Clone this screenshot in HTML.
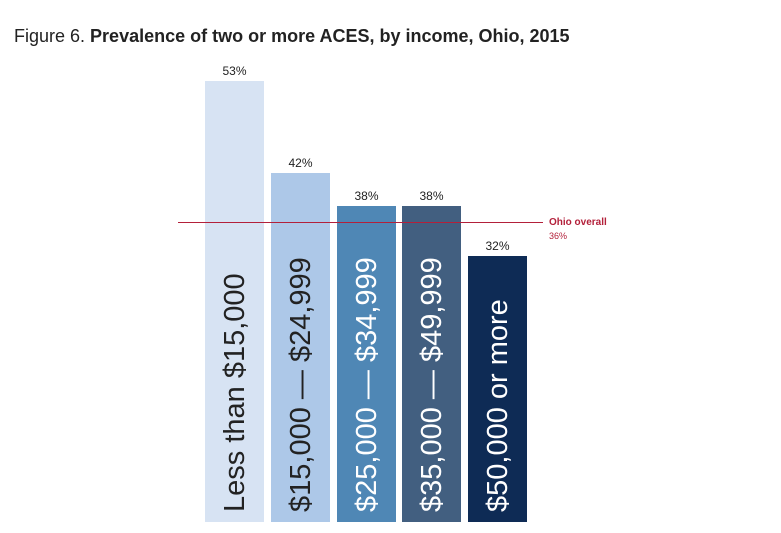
<!DOCTYPE html>
<html><head><style>
body{margin:0;width:781px;height:533px;background:#fff;font-family:"Liberation Sans",sans-serif;position:relative;overflow:hidden}
.t{position:absolute;left:14px;top:26px;font-size:18px;color:#222}
.b{position:absolute;bottom:11px;width:59px}
.v{position:absolute;font-size:12px;color:#222;width:59px;text-align:center}
.l{position:absolute;bottom:-24px;left:50%;transform-origin:0 0;transform:rotate(-90deg) translateY(-50%);white-space:nowrap;font-size:29px;color:#fff;font-weight:300;line-height:34px}
</style></head><body>
<div class="t">Figure 6. <b>Prevalence of two or more ACES, by income, Ohio, 2015</b></div>
<div class="b" style="left:205px;top:81px;background:#d7e3f3"><div class="l" style="color:#222;top:auto">Less than $15,000</div></div>
<div class="b" style="left:271px;top:173px;background:#adc8e8"><div class="l" style="color:#222">$15,000 — $24,999</div></div>
<div class="b" style="left:337px;top:206px;background:#4f87b5"><div class="l">$25,000 — $34,999</div></div>
<div class="b" style="left:402px;top:206px;background:#425f80"><div class="l">$35,000 — $49,999</div></div>
<div class="b" style="left:468px;top:256px;background:#0e2b55"><div class="l">$50,000 or more</div></div>
<div class="v" style="left:205px;top:64px">53%</div>
<div class="v" style="left:271px;top:156px">42%</div>
<div class="v" style="left:337px;top:189px">38%</div>
<div class="v" style="left:402px;top:189px">38%</div>
<div class="v" style="left:468px;top:239px">32%</div>
<div style="position:absolute;left:178px;top:222px;width:365px;height:1px;background:#b3203a"></div>
<div style="position:absolute;left:549px;top:217px;font-size:10px;font-weight:bold;color:#b3203a">Ohio overall</div>
<div style="position:absolute;left:549px;top:231px;font-size:9px;color:#b3203a">36%</div>
</body></html>
